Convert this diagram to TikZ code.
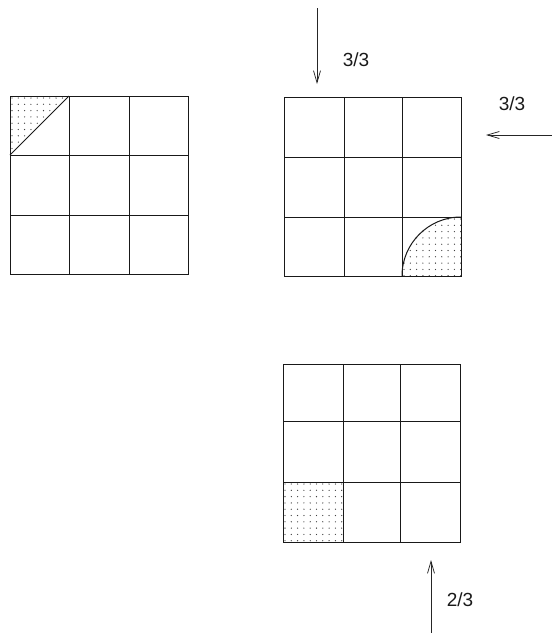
\documentclass[tikz,border=0pt]{standalone}
\usepackage{fontspec}
\setmainfont{Liberation Sans}
\usetikzlibrary{arrows.meta}
\begin{document}
\begin{tikzpicture}[x=1pt,y=-1pt,
  gridline/.style={line width=1pt,black!90},
  arr/.style={line width=0.75pt,black!85,-{Straight Barb[length=12pt,width=7pt,line width=0.75pt]}},
  lbl/.style={font=\fontsize{19}{22}\selectfont,inner sep=0pt,text=black!90},
  dotfill/.style={fill=black!75}]
\useasboundingbox (0,0) rectangle (552,633);
% dotted regions
\begin{scope}
  \clip (10,96) -- (69,96) -- (10,155) -- cycle;
  \foreach \i in {0,...,10} \foreach \j in {0,...,10}
    \fill[dotfill] (12+\i*6.3,98+\j*6.3) circle (0.65);
\end{scope}
\begin{scope}
  \clip (402,276) arc[start angle=180,end angle=270,radius=59] -- (461,276) -- cycle;
  \foreach \i in {0,...,10} \foreach \j in {0,...,10}
    \fill[dotfill] (404+\i*6.3,219+\j*6.3) circle (0.65);
\end{scope}
\begin{scope}
  \clip (283,482) rectangle (343,542);
  \foreach \i in {0,...,10} \foreach \j in {0,...,10}
    \fill[dotfill] (285+\i*6.3,484+\j*6.3) circle (0.65);
\end{scope}
% grid 1
\draw[gridline] (10,96) rectangle (188,274);
\draw[gridline] (69,96) -- (69,274) (129,96) -- (129,274) (10,155) -- (188,155) (10,215) -- (188,215);
\draw[gridline] (69,96) -- (10,155);
% grid 2
\draw[gridline] (284,97) rectangle (461,276);
\draw[gridline] (344,97) -- (344,276) (402,97) -- (402,276) (284,157) -- (461,157) (284,217) -- (461,217);
\draw[gridline] (402,276) arc[start angle=180,end angle=270,radius=59];
% grid 3
\draw[gridline] (283,364) rectangle (460,542);
\draw[gridline] (343,364) -- (343,542) (400,364) -- (400,542) (283,421) -- (460,421) (283,482) -- (460,482);
% arrows
\coordinate (a1s) at (317,8); \coordinate (a1e) at (317,84);
\coordinate (a2s) at (552,135); \coordinate (a2e) at (486,135);
\coordinate (a3s) at (431,633); \coordinate (a3e) at (431,560);
\draw[arr] (a1s) -- (a1e);
\draw[arr] (a2s) -- (a2e);
\draw[arr] (a3s) -- (a3e);
\node[lbl] (l1) at (356,60) {3/3};
\node[lbl] (l2) at (512,104) {3/3};
\node[lbl] (l3) at (460,600) {2/3};
\end{tikzpicture}
\end{document}
